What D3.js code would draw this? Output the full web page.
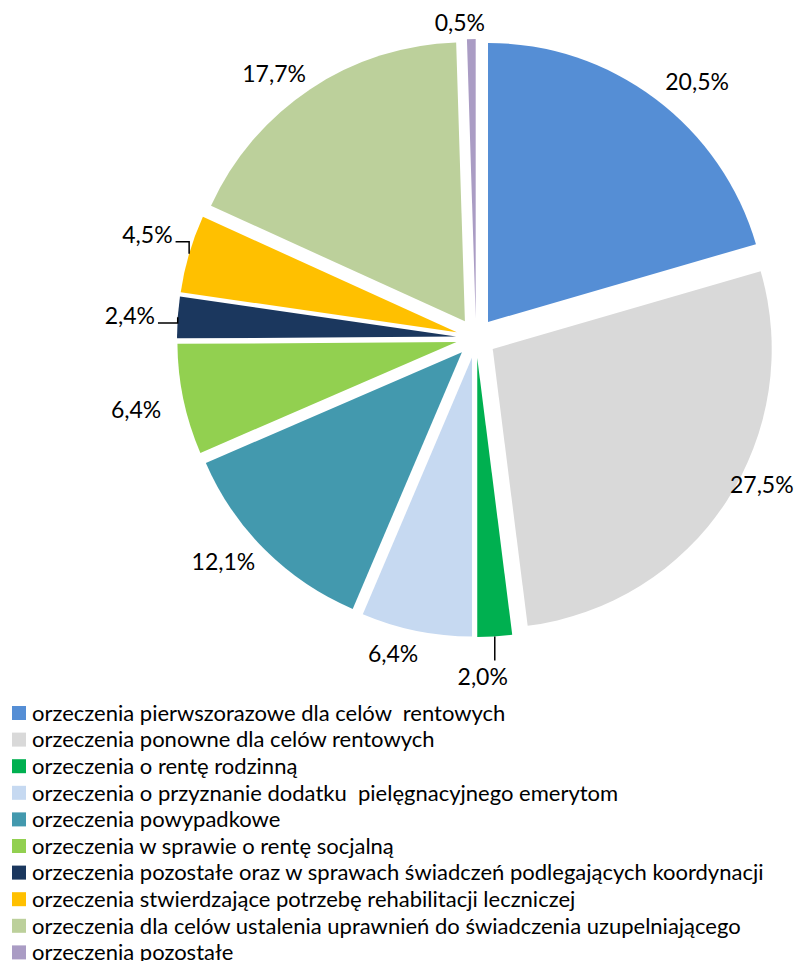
<!DOCTYPE html>
<html>
<head>
<meta charset="utf-8">
<script src="https://cdn.jsdelivr.net/npm/d3@7"></script>
<style>
  body { margin: 0; background: #fff; }
  svg text { font-family: Lato, "Open Sans", sans-serif; fill: #000; white-space: pre; }
</style>
</head>
<body>
<div id="plot"></div>
<script>
// data
var categories = [
  'orzeczenia pierwszorazowe dla celów  rentowych',
  'orzeczenia ponowne dla celów rentowych',
  'orzeczenia o rentę rodzinną',
  'orzeczenia o przyznanie dodatku  pielęgnacyjnego emerytom',
  'orzeczenia powypadkowe',
  'orzeczenia w sprawie o rentę socjalną',
  'orzeczenia pozostałe oraz w sprawach świadczeń podlegających koordynacji',
  'orzeczenia stwierdzające potrzebę rehabilitacji leczniczej',
  'orzeczenia dla celów ustalenia uprawnień do świadczenia uzupelniającego',
  'orzeczenia pozostałe'
];
var shares = [20.5, 27.5, 2.0, 6.4, 12.1, 6.4, 2.4, 4.5, 17.7, 0.5];
var colors = ['#558ed5', '#d9d9d9', '#00b050', '#c6d9f1', '#4399ae',
              '#92d050', '#1b375e', '#ffc000', '#bcd09b', '#aa9cc4'];

// label placement tweaks (pixels) on top of the computed outside position
var labelNudge = [[23,8],[10,-34],[-14,10],[-17,-7],[-20,-10],[-17,4],[-17,1],[-12,-10],[-19,11],[-11,15]];
var leader = [null, null, 'down', null, null, null, 'left', 'left', null, null];

var width = 803, height = 961;
var cx = 476, cy = 338, radius = 279, explode = 20, labelR = 330;

var svg = d3.select('#plot')
  .append('svg')
  .attr('width', width)
  .attr('height', height);

var pie = d3.pie().sort(null).value(function(d){ return d; });
var arc = d3.arc().innerRadius(0).outerRadius(radius);
var slices = pie(shares);

var fmt = d3.format('.1f');
function pct(v){ return fmt(v).replace('.', ',') + '%'; }

var plot = svg.append('g')
  .attr('transform', 'translate(' + cx + ',' + cy + ')');

function mid(d){ return (d.startAngle + d.endAngle) / 2; }

plot.selectAll('path.slice')
  .data(slices)
  .enter()
  .append('path')
  .attr('class', 'slice')
  .attr('d', arc)
  .attr('fill', function(d, i){ return colors[i]; })
  .attr('transform', function(d){
    var a = mid(d);
    return 'translate(' + (explode * Math.sin(a)) + ',' + (-explode * Math.cos(a)) + ')';
  });

// labels
var labelSize = 23;
slices.forEach(function(d, i){
  var a = mid(d);
  var lx = labelR * Math.sin(a) + labelNudge[i][0],
      ly = -labelR * Math.cos(a) + labelNudge[i][1];

  var t = plot.append('text')
    .attr('x', lx)
    .attr('y', ly)
    .attr('dy', '0.35em')
    .attr('text-anchor', 'middle')
    .style('font-size', labelSize + 'px')
    .text(pct(shares[i]));

  if (leader[i]) {
    var ox = (explode + radius) * Math.sin(a),
        oy = -(explode + radius) * Math.cos(a);
    var bb = t.node().getBBox();
    var pts;
    if (leader[i] === 'down') {
      pts = [[ox, oy], [ox, bb.y - 2]];
    } else {
      var by = ly + labelSize * 0.3;
      pts = [[ox, oy], [ox, by], [bb.x + bb.width + 3, by]];
    }
    plot.append('path')
      .attr('d', d3.line()(pts))
      .attr('fill', 'none')
      .attr('stroke', '#000')
      .attr('stroke-width', 1.5);
  }
});

// legend
var legendTop = 713, rowH = 26.6;
var legend = svg.append('g');
var rows = legend.selectAll('g')
  .data(categories)
  .enter()
  .append('g')
  .attr('transform', function(d, i){ return 'translate(0,' + (legendTop + i * rowH) + ')'; });

rows.append('rect')
  .attr('x', 12)
  .attr('y', -7)
  .attr('width', 14)
  .attr('height', 14)
  .attr('fill', function(d, i){ return colors[i]; });

rows.append('text')
  .attr('x', 32)
  .attr('dy', '0.35em')
  .style('font-size', '22px')
  .text(function(d){ return d; });
</script>
</body>
</html>
